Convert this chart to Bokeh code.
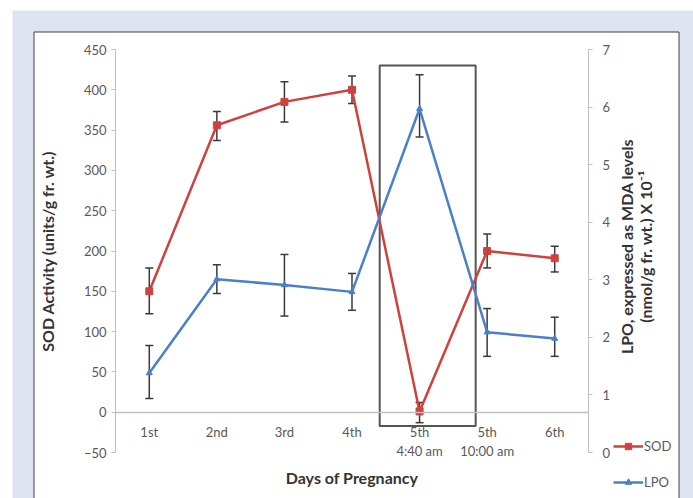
import math
from bokeh.plotting import figure
from bokeh.models import (Range1d, LinearAxis, FixedTicker, ColumnDataSource,
                          Whisker, TeeHead, BoxAnnotation, Legend, LegendItem, Label)
from bokeh.embed import file_html
from bokeh.resources import INLINE

# ---- data ----
days = ["1st", "2nd", "3rd", "4th", "5th\n4:40 am", "5th\n10:00 am", "6th"]
sod = [150, 356, 385, 400, 1, 200, 191]
sod_lower = [122, 337, 360, 383, -13, 179, 174]
sod_upper = [179, 373, 410, 417, 12, 221, 206]
lpo = [1.38, 3.01, 2.91, 2.79, 5.97, 2.09, 1.98]
lpo_lower = [0.94, 2.76, 2.37, 2.47, 5.48, 1.67, 1.67]
lpo_upper = [1.86, 3.26, 3.44, 3.11, 6.56, 2.50, 2.35]
sod_ticks = [-50, 0, 50, 100, 150, 200, 250, 300, 350, 400, 450]
lpo_ticks = [0, 1, 2, 3, 4, 5, 6, 7]

# ---- geometry (canvas px) ----
W, H = 693, 498
PL, PR, PT, PB = 115, 588, 49, 452      # plotting region inside canvas
n = len(days)
xs = [i + 0.5 for i in range(n)]        # category centres
ux = n / (PR - PL)
x_start, x_end = -PL * ux, n + (W - PR) * ux
s0, s1 = sod_ticks[0], sod_ticks[-1]
us = (s1 - s0) / (PB - PT)
l0, l1 = lpo_ticks[0], lpo_ticks[-1]
ul = (l1 - l0) / (PB - PT)

FONT = "Lato"
RED = "#d0403c"
BLUE = "#4a80c8"
TICK_COL = "#595959"
AXIS_COL = "#bfbfbf"
TITLE_COL = "#333333"

p = figure(width=W, height=H,
           x_range=Range1d(x_start, x_end),
           y_range=Range1d(s0 - (H - PB) * us, s1 + PT * us),
           output_backend="svg", toolbar_location=None,
           min_border_left=0, min_border_right=0,
           min_border_top=0, min_border_bottom=0,
           border_fill_color="white", background_fill_color="white",
           outline_line_color=None)
p.title.visible = False
p.extra_y_ranges = {"lpo": Range1d(l0 - (H - PB) * ul, l1 + PT * ul)}
p.xgrid.visible = False
p.ygrid.visible = False

# background: lavender page area and white panel with border
bg = BoxAnnotation(left=12, right=W, top=10, bottom=H,
                   left_units="canvas", right_units="canvas",
                   top_units="canvas", bottom_units="canvas",
                   fill_color="#dfe3f1", fill_alpha=1, line_color=None, level="image")
panel = BoxAnnotation(left=33.5, right=678.5, top=31.5, bottom=H + 20,
                      left_units="canvas", right_units="canvas",
                      top_units="canvas", bottom_units="canvas",
                      fill_color="white", fill_alpha=1, line_color="#404040",
                      line_alpha=1, line_width=1, level="image")
p.add_layout(bg)
p.add_layout(panel)

# left axis
ya = p.yaxis[0]
ya.fixed_location = 0
ya.bounds = (s0, s1)
ya.ticker = FixedTicker(ticks=sod_ticks)
ya.axis_line_color = AXIS_COL
ya.major_tick_line_color = AXIS_COL
ya.major_tick_out = 4
ya.major_tick_in = 0
ya.minor_tick_line_color = None
ya.major_label_text_font = FONT
ya.major_label_text_font_size = "13px"
ya.major_label_text_color = TICK_COL
ya.major_label_standoff = 5
ya.axis_label = "SOD Activity (units/g fr. wt.)"
ya.axis_label_text_font = FONT
ya.axis_label_text_font_style = "bold"
ya.axis_label_text_font_size = "16px"
ya.axis_label_text_color = TITLE_COL
ya.axis_label_standoff = 24

# right axis
ra = LinearAxis(y_range_name="lpo", ticker=FixedTicker(ticks=lpo_ticks))
ra.fixed_location = n
ra.bounds = (l0, l1)
ra.axis_line_color = AXIS_COL
ra.major_tick_line_color = AXIS_COL
ra.major_tick_out = 4
ra.major_tick_in = 0
ra.minor_tick_line_color = None
ra.major_label_text_font = FONT
ra.major_label_text_font_size = "13px"
ra.major_label_text_color = TICK_COL
ra.major_label_standoff = 10
p.add_layout(ra, "right")

# right axis title (reads bottom to top)
rt = Label(x=n + (635.5 - PR) * ux, y=s0 + (PB - 246) * us,
           text="LPO, expressed as MDA levels\n(nmol/g fr. wt.) X 10\u207b\u00b9",
           angle=math.pi / 2, text_align="center", text_baseline="middle",
           text_font=FONT, text_font_style="bold", text_font_size="16px",
           text_color=TITLE_COL, text_line_height=0.95)
p.add_layout(rt)

# x axis (at zero)
xa = p.xaxis[0]
xa.fixed_location = 0
xa.bounds = (0, n)
xa.ticker = FixedTicker(ticks=xs)
xa.major_label_overrides = {x: d for x, d in zip(xs, days)}
xa.axis_line_color = AXIS_COL
xa.axis_line_width = 1.5
xa.major_tick_line_color = None
xa.minor_tick_line_color = None
xa.major_tick_out = 0
xa.major_tick_in = 0
xa.major_label_standoff = 12
xa.major_label_text_font = FONT
xa.major_label_text_font_size = "13px"
xa.major_label_text_line_height = 1.2
xa.major_label_text_color = TICK_COL
xa.axis_label = "Days of Pregnancy"
xa.axis_label_text_font = FONT
xa.axis_label_text_font_style = "bold"
xa.axis_label_text_font_size = "16px"
xa.axis_label_text_color = TITLE_COL
xa.axis_label_standoff = 5

# highlight box around 5th 4:40 am
hl = BoxAnnotation(left=3.91, right=5.33, bottom=-17, top=430,
                   fill_alpha=0, line_color="#555555", line_alpha=1,
                   line_width=2, level="underlay")
p.add_layout(hl)

src = ColumnDataSource(dict(x=xs, sod=sod, sl=sod_lower, su=sod_upper,
                            lpo=lpo, ll=lpo_lower, lu=lpo_upper))

def tee():
    return TeeHead(size=8, line_color="#3a3a3a", line_width=1.5)

w1 = Whisker(base="x", upper="su", lower="sl", source=src,
             line_color="#3a3a3a", line_width=1.5, upper_head=tee(), lower_head=tee())
w2 = Whisker(base="x", upper="lu", lower="ll", source=src, y_range_name="lpo",
             line_color="#3a3a3a", line_width=1.5, upper_head=tee(), lower_head=tee())
p.add_layout(w1)
p.add_layout(w2)

l1_ = p.line("x", "sod", source=src, line_color=RED, line_width=2.5)
m1 = p.scatter("x", "sod", source=src, marker="square", size=7,
               fill_color=RED, line_color=RED)
l2_ = p.line("x", "lpo", source=src, y_range_name="lpo", line_color=BLUE, line_width=2.5)
m2 = p.scatter("x", "lpo", source=src, y_range_name="lpo", marker="triangle", size=6,
               fill_color=BLUE, line_color=BLUE)

legend = Legend(items=[LegendItem(label="SOD", renderers=[l1_, m1]),
                       LegendItem(label="LPO", renderers=[l2_, m2])],
                location=(613, 8), orientation="vertical",
                background_fill_alpha=0, border_line_color=None,
                padding=0, margin=0, spacing=20,
                glyph_width=30, glyph_height=16, label_height=16,
                label_standoff=1,
                label_text_font=FONT, label_text_font_size="13px",
                label_text_color=TICK_COL)
p.add_layout(legend, "center")

open("out.html", "w").write(file_html(p, INLINE))
